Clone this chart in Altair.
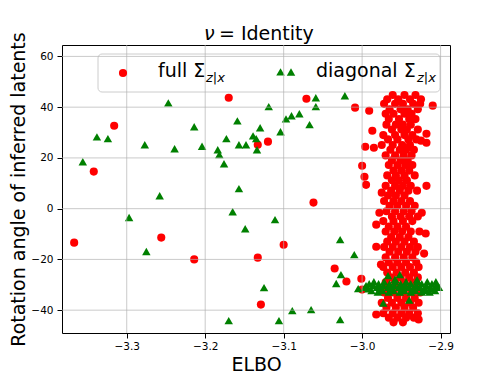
import altair as alt
import pandas as pd

FONT = "DejaVu Sans"

# ---------------- data ----------------
# full Sigma (red circles): scattered points
full_out_elbo = [-3.367, -3.342, -3.316, -3.256, -3.214, -3.170, -3.071, -3.009, -3.133, -3.120,
                 -3.062, -3.100, -3.133, -3.129, -3.035, -3.020, -3.001, -3.000,
                 -2.991, -2.987, -2.996, -3.000, -2.997, -2.995, -2.910, -2.918, -2.918, -2.925,
                 -2.985, -2.918, -2.924, -2.978, -2.975, -2.982, -2.919, -2.921, -2.982, -2.976,
                 -2.982, -2.928]
full_out_angle = [-13.4, 14.6, 32.7, -11.4, -20.0, 43.7, 43.3, 39.8, 25.2, 26.4,
                  2.4, -14.2, -19.3, -37.8, -23.6, -28.7, -27.6, -31.9,
                  38.6, 30.7, 24.4, 16.9, 12.6, 9.4, 40.6, 29.5, 26.0, 26.8,
                  24.0, 9.0, -1.6, -1.6, 6.3, -6.3, -9.8, -17.7, -15.0, -22.0,
                  -41.7, -43.7]

# full Sigma: dense column near ELBO -2.95 (rows of angle -> ELBO values)
full_col_angle = [44.8, 43.1, 41.3, 39.2, 37.4, 35.3, 33.1, 31.2, 29.0, 27.3, 25.1, 23.2, 21.0,
                  19.1, 17.2, 15.0, 13.1, 11.2, 9.0, 7.1, 5.2, 3.0, 1.1, -1.0, -3.1, -4.9, -7.1,
                  -9.0, -11.2, -13.0, -15.1, -17.0, -19.2, -21.1, -23.0, -25.2, -27.1, -29.0,
                  -31.1, -33.0, -35.2, -37.1, -39.0, -41.2, -43.0, -44.8]
full_col_elbo = [
    [-2.961, -2.946, -2.932],
    [-2.968, -2.954, -2.939, -2.925],
    [-2.972, -2.958, -2.948, -2.935, -2.926],
    [-2.965, -2.951, -2.942, -2.929],
    [-2.970, -2.960, -2.946, -2.937],
    [-2.966, -2.953, -2.940, -2.932],
    [-2.969, -2.957, -2.948, -2.938],
    [-2.962, -2.950, -2.943, -2.929],
    [-2.973, -2.958, -2.946, -2.936],
    [-2.967, -2.955, -2.941, -2.931],
    [-2.975, -2.961, -2.949, -2.939],
    [-2.964, -2.952, -2.944, -2.934],
    [-2.970, -2.958, -2.947, -2.937],
    [-2.962, -2.951, -2.942],
    [-2.966, -2.955, -2.945, -2.936],
    [-2.960, -2.950, -2.940],
    [-2.968, -2.957, -2.946, -2.933],
    [-2.962, -2.953, -2.943],
    [-2.970, -2.958, -2.948, -2.938],
    [-2.963, -2.952, -2.941, -2.930],
    [-2.967, -2.957, -2.946],
    [-2.972, -2.960, -2.950, -2.939],
    [-2.965, -2.955, -2.944, -2.933],
    [-2.969, -2.958, -2.947, -2.937],
    [-2.962, -2.951, -2.940, -2.929],
    [-2.973, -2.960, -2.948, -2.936],
    [-2.966, -2.955, -2.944],
    [-2.970, -2.959, -2.949, -2.938, -2.927],
    [-2.963, -2.952, -2.941],
    [-2.968, -2.957, -2.946, -2.934],
    [-2.972, -2.961, -2.950, -2.939, -2.929],
    [-2.965, -2.954, -2.943, -2.932],
    [-2.970, -2.958, -2.947, -2.936],
    [-2.966, -2.955, -2.944, -2.931],
    [-2.973, -2.961, -2.950, -2.939, -2.928],
    [-2.968, -2.956, -2.945, -2.934],
    [-2.963, -2.951, -2.940, -2.929],
    [-2.970, -2.958, -2.947, -2.936],
    [-2.966, -2.954, -2.942, -2.931],
    [-2.972, -2.960, -2.948, -2.937, -2.926],
    [-2.967, -2.955, -2.944, -2.933],
    [-2.975, -2.962, -2.950, -2.939, -2.928],
    [-2.969, -2.957, -2.946, -2.935],
    [-2.973, -2.961, -2.950, -2.940, -2.929],
    [-2.966, -2.955, -2.944, -2.934],
    [-2.960, -2.948],
]

# diagonal Sigma (green triangles): scattered points
diag_out_elbo = [-3.356, -3.338, -3.324, -3.277, -3.247, -3.239, -3.214, -3.204, -3.184, -3.182,
                 -3.258, -3.104, -3.059, -3.022, -3.119, -3.059, -3.159, -3.097, -3.090, -3.080,
                 -3.067, -3.130, -3.139, -3.135, -3.173, -3.104, -3.157, -3.148, -3.134, -3.176,
                 -3.157, -3.297, -3.275, -3.165, -3.149, -3.111, -3.028, -3.010, -3.027, -3.033,
                 -3.005, -3.125, -3.089, -3.065, -3.170, -3.106, -3.028,
                 -2.967, -2.952, -2.973, -2.940, -2.958, -2.930]
diag_out_angle = [18.5, 28.3, 27.6, 25.2, 41.7, 23.6, 32.3, 24.6, 23.2, 21.3,
                  5.1, 53.9, 43.7, 44.5, 40.2, 40.2, 34.6, 35.4, 36.6, 37.4,
                  33.1, 31.9, 28.7, 27.6, 27.6, 30.3, 25.2, 25.2, 23.2, 17.7,
                  7.9, -3.5, -16.9, -1.2, -7.9, -4.3, -12.2, -18.1, -26.0, -29.5,
                  -31.5, -31.1, -40.2, -39.8, -44.1, -44.1, -43.7,
                  -26.4, -26.0, -37.2, -36.0, -27.8, -28.0]

# diagonal Sigma: dense band near angle -31
diag_band_angle = [-28.8, -29.6, -30.3, -31.0, -31.6, -32.3, -32.9]
diag_band_elbo = [
    [-2.985, -2.972, -2.958, -2.944, -2.930, -2.917, -2.906],
    [-2.991, -2.979, -2.965, -2.951, -2.938, -2.924, -2.911],
    [-2.995, -2.986, -2.973, -2.959, -2.945, -2.931, -2.918, -2.905],
    [-2.996, -2.981, -2.967, -2.953, -2.940, -2.926, -2.913, -2.902],
    [-2.992, -2.977, -2.963, -2.949, -2.935, -2.921, -2.909],
    [-2.988, -2.974, -2.960, -2.946, -2.932, -2.919, -2.907],
    [-2.980, -2.966, -2.952, -2.938, -2.924, -2.914],
]

x_ticks = [-3.3, -3.2, -3.1, -3.0, -2.9]
y_ticks = [-40, -20, 0, 20, 40, 60]
x_domain = [-3.3825, -2.888]
y_domain = [-49, 64.5]

title_nu = "ν"
title_rest = "= Identity"
legend_labels = ["full Σ", "diagonal Σ"]
legend_subs = ["z|x", "z|x"]
colors = ["#ff0000", "#008000"]

# ---------------- frames ----------------
full_e, full_a = list(full_out_elbo), list(full_out_angle)
for a, row in zip(full_col_angle, full_col_elbo):
    for e in row:
        full_e.append(e)
        full_a.append(a)
diag_e, diag_a = list(diag_out_elbo), list(diag_out_angle)
for a, row in zip(diag_band_angle, diag_band_elbo):
    for e in row:
        diag_e.append(e)
        diag_a.append(a)

df_full = pd.DataFrame({"elbo": full_e, "angle": full_a})
df_diag = pd.DataFrame({"elbo": diag_e, "angle": diag_a})
df_xt = pd.DataFrame({"elbo": x_ticks})
df_yt = pd.DataFrame({"angle": y_ticks})
one = pd.DataFrame({"k": [0]})

xs = alt.Scale(domain=x_domain, nice=False, zero=False)
ys = alt.Scale(domain=y_domain, nice=False, zero=False)

common_axis = dict(labelFont=FONT, labelFontSize=10.5, labelColor="black",
                   tickColor="black", tickSize=5, tickWidth=1, domain=False, grid=False,
                   titleFont=FONT, titleFontSize=19, titleFontWeight="normal",
                   titleColor="black")

x_axis = alt.Axis(values=x_ticks, title="ELBO",
                  labelExpr="replace(format(datum.value, '.1f'), '-', '\u2212')",
                  labelPadding=3, titleX=194, titleY=37, titleBaseline="alphabetic",
                  titleAlign="center", **common_axis)
y_axis = alt.Axis(values=y_ticks, title="Rotation angle of inferred latents",
                  labelExpr="replace(format(datum.value, 'd'), '-', '\u2212')",
                  labelPadding=4, titleX=-38, titleY=144, titleAngle=-90,
                  titleBaseline="alphabetic", titleAlign="center", **common_axis)

X = alt.X("elbo:Q", scale=xs, axis=x_axis)
Y = alt.Y("angle:Q", scale=ys, axis=y_axis)

RED_SIZE = 66
TRI_SIZE = 72

red = alt.Chart(df_full).mark_point(shape="circle", filled=True, color=colors[0],
                                     size=RED_SIZE, opacity=1).encode(x=X, y=Y)
green = alt.Chart(df_diag).mark_point(shape="triangle-up", filled=True, color=colors[1],
                                       size=TRI_SIZE, opacity=1).encode(x=X, y=Y)

legend_box = alt.Chart(one).mark_rect(
    fill="white", stroke="#cccccc", strokeWidth=1, cornerRadius=4
).encode(x=alt.value(36), x2=alt.value(378), y=alt.value(9), y2=alt.value(47))

xgrid = alt.Chart(df_xt).mark_rule(color="#b0b0b0", strokeWidth=0.9, opacity=0.75).encode(x=X)
ygrid = alt.Chart(df_yt).mark_rule(color="#b0b0b0", strokeWidth=0.9, opacity=0.75).encode(y=Y)

title_a = alt.Chart(one).mark_text(
    text=title_nu, align="left", baseline="alphabetic", font=FONT, fontSize=19,
    fontStyle="italic", color="black").encode(x=alt.value(142), y=alt.value(-5))
title_b = alt.Chart(one).mark_text(
    text=title_rest, align="left", baseline="alphabetic", font=FONT, fontSize=19,
    color="black").encode(x=alt.value(157), y=alt.value(-5))


def legend_entry(i, shape, size, mx, my, tx, sx):
    mk = alt.Chart(one).mark_point(shape=shape, filled=True, color=colors[i], size=size,
                                   opacity=1).encode(x=alt.value(mx), y=alt.value(my))
    tt = alt.Chart(one).mark_text(text=legend_labels[i], align="left", baseline="alphabetic",
                                  font=FONT, fontSize=19, color="black").encode(
        x=alt.value(tx), y=alt.value(32))
    st = alt.Chart(one).mark_text(text=legend_subs[i], align="left", baseline="alphabetic",
                                  font=FONT, fontSize=13, fontStyle="italic",
                                  color="black").encode(x=alt.value(sx), y=alt.value(37))
    return [mk, tt, st]


leg = legend_entry(0, "circle", RED_SIZE, 61, 28, 96, 144) + \
      legend_entry(1, "triangle-up", TRI_SIZE, 229, 27, 254, 355)

chart = alt.layer(legend_box, red, green, xgrid, ygrid, title_a, title_b, *leg).properties(
    width=388, height=288,
    padding={"left": 62, "top": 45, "right": 50, "bottom": 42},
    autosize=alt.AutoSizeParams(type="none"),
    background="white",
).configure_view(stroke="black", strokeWidth=1)

chart.save("out.html", embed_options={"renderer": "svg", "actions": False})
